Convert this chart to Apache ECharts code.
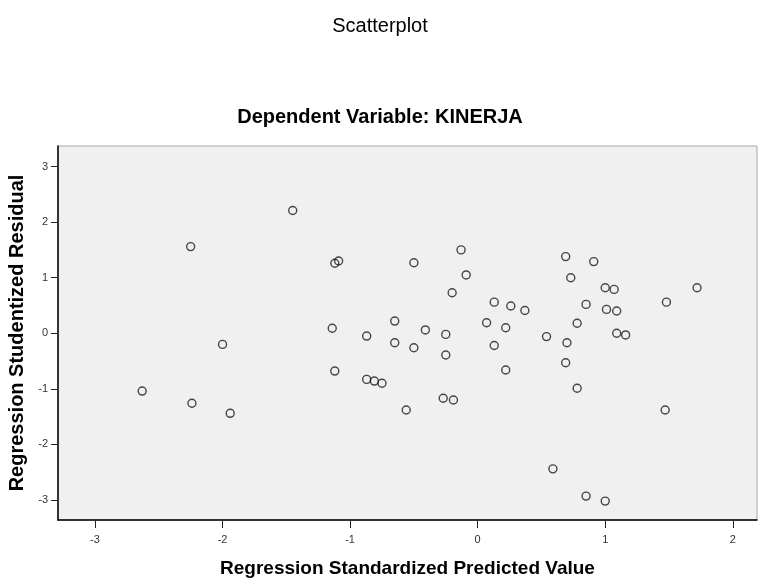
<!DOCTYPE html>
<html>
<head>
<meta charset="utf-8">
<script src="https://cdn.jsdelivr.net/npm/echarts@6/dist/echarts.min.js"></script>
<style>
  html, body { margin: 0; padding: 0; background: #fff; }
  #main { width: 760px; height: 581px; }
</style>
</head>
<body>
<div id="main"></div>
<script>
// Regression Standardized Predicted Value (x)
var predicted = [
  -1.45, -2.25, -1.12, -1.09, -0.50, -0.13, -0.09, -0.20, 0.69, 0.91,
  0.73, 0.13, 0.26, 0.37, 1.00, 1.07, 1.72, 1.48, 0.85, 1.01,
  1.09, 0.07, 0.22, 0.78, 0.54, 0.70, 1.09, 1.16, 0.13, 0.69,
  0.22, 0.78, 1.47, 0.59, 0.85, 1.00, -1.14, -0.87, -0.65, -0.65,
  -0.41, -0.25, -0.50, -0.25, -1.12, -0.87, -0.81, -0.75, -0.56, -0.27,
  -0.19, -2.00, -2.63, -2.24, -1.94
];
// Regression Studentized Residual (y)
var residual = [
  2.21, 1.56, 1.26, 1.30, 1.27, 1.50, 1.05, 0.73, 1.38, 1.29,
  1.00, 0.56, 0.49, 0.41, 0.82, 0.79, 0.82, 0.56, 0.52, 0.43,
  0.40, 0.19, 0.10, 0.18, -0.06, -0.17, 0.00, -0.03, -0.22, -0.53,
  -0.66, -0.99, -1.38, -2.44, -2.93, -3.02, 0.09, -0.05, 0.22, -0.17,
  0.06, -0.02, -0.26, -0.39, -0.68, -0.83, -0.86, -0.90, -1.38, -1.17,
  -1.20, -0.20, -1.04, -1.26, -1.44
];
var xTicks = [-3, -2, -1, 0, 1, 2];
var yTicks = [-3, -2, -1, 0, 1, 2, 3];

var points = predicted.map(function (v, i) { return [v, residual[i]]; });

var chart = echarts.init(document.getElementById('main'));
chart.setOption({
  animation: false,
  backgroundColor: '#fff',
  title: [
    {
      text: 'Scatterplot',
      left: 'center',
      top: 11,
      textStyle: { fontFamily: 'Liberation Sans', fontSize: 20, fontWeight: 'normal', color: '#000' }
    },
    {
      text: 'Dependent Variable: KINERJA',
      left: 'center',
      top: 102,
      textStyle: { fontFamily: 'Liberation Sans', fontSize: 20, fontWeight: 'bold', color: '#000' }
    }
  ],
  grid: {
    left: 58, right: 3, top: 146, bottom: 61,
    outerBoundsMode: 'none',
    containLabel: false,
    show: true,
    backgroundColor: '#f0f0f0',
    borderColor: '#a8a8a8',
    borderWidth: 1
  },
  xAxis: {
    type: 'value',
    min: -3.29, max: 2.19,
    name: 'Regression Standardized Predicted Value',
    nameLocation: 'middle',
    nameGap: 39,
    nameTextStyle: { fontFamily: 'Liberation Sans', fontSize: 19, fontWeight: 'bold', color: '#000' },
    axisLine: { onZero: false, lineStyle: { color: '#000', width: 1.5 } },
    axisTick: { customValues: xTicks, length: 8, lineStyle: { color: '#222' } },
    axisLabel: { customValues: xTicks, margin: 14, fontFamily: 'Liberation Sans', fontSize: 11, color: '#333' },
    splitLine: { show: false }
  },
  yAxis: {
    type: 'value',
    min: -3.36, max: 3.37,
    name: 'Regression Studentized Residual',
    nameLocation: 'middle',
    nameRotate: 90,
    nameGap: 29,
    nameTextStyle: { fontFamily: 'Liberation Sans', fontSize: 20, fontWeight: 'bold', color: '#000' },
    axisLine: { onZero: false, lineStyle: { color: '#000', width: 1.5 } },
    axisTick: { customValues: yTicks, length: 7, lineStyle: { color: '#222' } },
    axisLabel: { customValues: yTicks, margin: 10, fontFamily: 'Liberation Sans', fontSize: 11, color: '#333' },
    splitLine: { show: false }
  },
  series: [{
    type: 'scatter',
    data: points,
    symbol: 'circle',
    symbolSize: 8,
    itemStyle: { color: 'transparent', borderColor: '#1a1a1a', borderWidth: 1.4 }
  }]
});
</script>
</body>
</html>
